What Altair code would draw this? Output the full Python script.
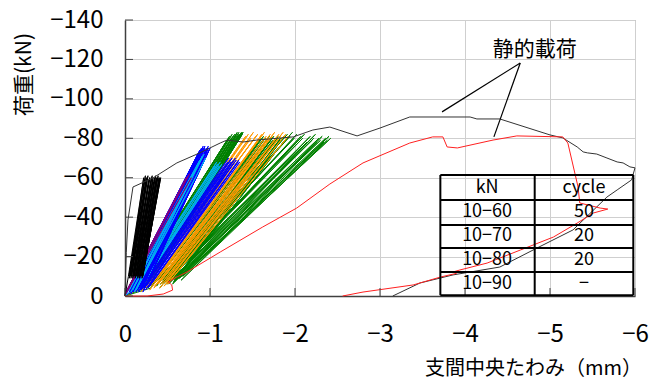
import altair as alt
import pandas as pd

FONT = "Noto Sans CJK JP"

# ---------------------------------------------------------------
# Static loading tests (magnitudes: deflection mm, load kN)
# ---------------------------------------------------------------
static_a_defl = [0.0, 0.005, 0.015, 0.035, 0.094, 0.33, 0.61, 0.88, 1.0, 1.12, 1.2, 1.39,
                 1.55, 1.98, 2.21, 2.41, 2.73, 3.0, 3.35, 4.06, 4.14, 4.41, 5.0, 5.15,
                 5.32, 5.39, 5.44, 5.55, 5.67, 5.79, 5.86, 5.94, 6.0, 5.96, 5.79, 5.67,
                 5.27, 4.85, 4.41, 3.86, 3.47, 3.15]
static_a_load = [0.0, 9.6, 22.0, 38.6, 55.3, 59.9, 67.5, 72.6, 75.1, 77.6, 79.1, 78.1,
                 79.1, 80.7, 84.2, 85.7, 81.2, 85.2, 90.8, 90.8, 89.8, 89.8, 81.7, 80.2,
                 75.6, 73.1, 72.6, 72.0, 70.0, 68.0, 67.5, 65.5, 65.0, 58.9, 53.8, 50.2,
                 33.5, 24.4, 14.7, 10.7, 6.6, 0.0]

static_b_defl = [0.0, 0.26, 0.45, 0.56, 0.55, 0.51, 0.61, 0.73, 1.12, 1.62, 2.02, 2.41,
                 2.80, 3.35, 3.62, 3.74, 3.79, 3.91, 4.33, 4.61, 5.15, 5.21, 5.33, 5.35,
                 5.59, 5.68, 5.51, 5.32, 5.04, 4.65, 4.26, 3.94, 3.86, 3.90, 3.71, 3.39,
                 2.80, 2.56]
static_b_load = [0.0, 0.0, 1.0, 3.0, 5.6, 7.1, 9.6, 12.2, 22.3, 35.0, 44.6, 56.8,
                 67.5, 77.6, 80.7, 80.7, 75.6, 75.1, 79.1, 81.2, 80.7, 77.6, 55.3, 47.2,
                 44.6, 44.1, 42.1, 37.0, 29.9, 23.3, 16.7, 13.2, 12.2, 11.5, 9.6, 5.6,
                 2.0, 0.0]

# ---------------------------------------------------------------
# Cyclic loading: lower / upper turning point of every cycle
# (vx, vy) = lower point, (px, py) = upper point
# ---------------------------------------------------------------
green_thin_vx = [0.34, 0.38, 0.36, 0.41, 0.39, 0.44, 0.42, 0.47, 0.45, 0.50, 0.48, 0.53,
                 0.51, 0.55, 0.54, 0.58, 0.56, 0.61, 0.59, 0.63, 0.62, 0.66, 0.64, 0.68]
green_thin_vy = [6, 8, 5, 9, 7, 8, 6, 9, 7, 10, 8, 9, 6, 10, 8, 7, 9, 10, 8, 9, 10, 8, 9, 10]
green_thin_px = [1.91, 1.94, 1.97, 1.99, 2.02, 2.04, 2.07, 2.09, 2.11, 2.14, 2.16, 2.18,
                 2.20, 2.22, 2.24, 2.26, 2.28, 2.30, 2.32, 2.34, 2.36, 2.38, 2.40, 2.42]
green_thin_py = [82, 81, 83, 80, 82, 79, 81, 80, 82, 78, 80, 81, 79, 80, 82, 78, 80,
                 79, 81, 78, 80, 79, 81, 80]

green_b_vx = [0.30, 0.33, 0.32, 0.35, 0.38, 0.37, 0.40, 0.42, 0.41, 0.44, 0.46, 0.45,
              0.48, 0.50, 0.49, 0.52, 0.54, 0.53, 0.56, 0.58, 0.57, 0.60]
green_b_vy = [4, 6, 5, 7, 6, 5, 7, 6, 4, 7, 8, 6, 7, 8, 6, 7, 8, 7, 6, 8, 7, 8]
green_b_px = [1.58, 1.60, 1.62, 1.63, 1.65, 1.67, 1.68, 1.70, 1.71, 1.73, 1.74, 1.75,
              1.77, 1.78, 1.79, 1.80, 1.82, 1.83, 1.84, 1.85, 1.87, 1.88]
green_b_py = [79, 80, 79, 81, 80, 79, 80, 81, 79, 80, 79, 81, 80, 79, 80, 81, 79, 80,
              79, 80, 81, 79]

orange_vx = [0.14, 0.17, 0.19, 0.21, 0.24, 0.23, 0.27, 0.29, 0.31, 0.30, 0.34, 0.36,
             0.35, 0.39, 0.41, 0.43, 0.42, 0.46, 0.48, 0.50]
orange_vy = [3, 5, 2, 6, 4, 5, 7, 3, 6, 5, 4, 7, 5, 6, 4, 8, 6, 5, 7, 6]
orange_px = [1.42, 1.45, 1.48, 1.51, 1.54, 1.56, 1.59, 1.61, 1.64, 1.66, 1.69, 1.71,
             1.73, 1.76, 1.78, 1.81, 1.83, 1.86, 1.89, 1.92]
orange_py = [81, 82, 80, 83, 81, 82, 80, 82, 83, 81, 80, 82, 81, 83, 80, 82, 81, 83,
             82, 81]

green_a_vx = [0.08, 0.10, 0.09, 0.11, 0.13, 0.12, 0.14, 0.16, 0.15, 0.17, 0.19, 0.18,
              0.20, 0.22, 0.21, 0.23, 0.25, 0.24, 0.26, 0.28]
green_a_vy = [2, 4, 3, 5, 4, 3, 5, 4, 6, 5, 4, 6, 5, 6, 4, 5, 6, 5, 6, 5]
green_a_px = [1.20, 1.22, 1.23, 1.25, 1.26, 1.27, 1.28, 1.29, 1.30, 1.31, 1.32, 1.33,
              1.34, 1.34, 1.35, 1.36, 1.37, 1.38, 1.38, 1.39]
green_a_py = [79, 80, 81, 80, 82, 81, 80, 82, 81, 82, 83, 81, 82, 83, 82, 81, 83, 82,
              83, 83]

blue_b_vx = [0.10, 0.12, 0.14, 0.15, 0.17, 0.19, 0.20, 0.22, 0.24, 0.25, 0.27, 0.29]
blue_b_vy = [3, 4, 3, 5, 4, 3, 5, 4, 3, 5, 4, 5]
blue_b_px = [1.21, 1.22, 1.24, 1.25, 1.26, 1.28, 1.29, 1.30, 1.31, 1.33, 1.34, 1.35]
blue_b_py = [68, 70, 69, 68, 70, 69, 68, 70, 69, 68, 69, 68]

cyan_b_vx = [0.08, 0.10, 0.12, 0.14, 0.16, 0.18]
cyan_b_vy = [3, 4, 3, 4, 3, 4]
cyan_b_px = [1.06, 1.08, 1.09, 1.11, 1.12, 1.14]
cyan_b_py = [66, 68, 67, 66, 68, 67]

blue_a_vx = [0.00, 0.02, 0.01, 0.03, 0.05, 0.04, 0.06, 0.08, 0.07, 0.09, 0.11, 0.10,
             0.12, 0.14, 0.13, 0.15, 0.17, 0.16, 0.18, 0.20, 0.19, 0.21, 0.23, 0.22]
blue_a_vy = [1, 2, 1, 3, 2, 4, 2, 3, 1, 2, 3, 2, 4, 3, 2, 3, 4, 2, 3, 4, 3, 2, 4, 3]
blue_a_px = [0.84, 0.85, 0.86, 0.86, 0.87, 0.88, 0.88, 0.89, 0.90, 0.90, 0.91, 0.92,
             0.92, 0.93, 0.94, 0.94, 0.95, 0.96, 0.96, 0.97, 0.98, 0.98, 0.99, 1.00]
blue_a_py = [70, 71, 72, 71, 73, 72, 74, 73, 75, 74, 73, 75, 76, 74, 75, 76, 74, 75,
             73, 74, 75, 76, 74, 75]

cyan_a_vx = [0.03, 0.05, 0.07, 0.09, 0.11, 0.13]
cyan_a_vy = [2, 3, 2, 3, 2, 3]
cyan_a_px = [0.86, 0.88, 0.90, 0.91, 0.93, 0.95]
cyan_a_py = [67, 69, 70, 71, 72, 70]

purple_vx = [0.00, 0.01, 0.01, 0.02]
purple_vy = [1, 2, 1, 2]
purple_px = [0.72, 0.74, 0.76, 0.78]
purple_py = [60, 61, 62, 60]

black_vx = [0.04, 0.05, 0.05, 0.06, 0.07, 0.07, 0.08, 0.09, 0.09, 0.10, 0.11, 0.11,
            0.12, 0.13, 0.13, 0.14, 0.15, 0.15, 0.16, 0.17, 0.17, 0.18, 0.19, 0.19,
            0.20, 0.21, 0.21]
black_vy = [10, 9, 11, 10, 9, 10, 11, 10, 9, 10, 11, 10, 9, 10, 11, 10, 9, 10, 11,
            10, 9, 10, 11, 10, 9, 10, 11]
black_px = [0.22, 0.23, 0.24, 0.25, 0.25, 0.26, 0.27, 0.28, 0.29, 0.29, 0.30, 0.31,
            0.32, 0.33, 0.33, 0.34, 0.35, 0.36, 0.37, 0.37, 0.38, 0.39, 0.40, 0.40,
            0.41, 0.41, 0.42]
black_py = [60, 59, 61, 60, 58, 60, 61, 59, 60, 60, 57, 60, 61, 59, 60, 58, 60, 61,
            60, 59, 60, 61, 60, 58, 60, 59, 60]

# drawing order: first entry lies underneath
cyclic_sets = [
    ("#008000", green_thin_vx, green_thin_vy, green_thin_px, green_thin_py),
    ("#008000", green_b_vx, green_b_vy, green_b_px, green_b_py),
    ("#FF9900", orange_vx, orange_vy, orange_px, orange_py),
    ("#008000", green_a_vx, green_a_vy, green_a_px, green_a_py),
    ("#0000FF", blue_b_vx, blue_b_vy, blue_b_px, blue_b_py),
    ("#00B0F0", cyan_b_vx, cyan_b_vy, cyan_b_px, cyan_b_py),
    ("#0000FF", blue_a_vx, blue_a_vy, blue_a_px, blue_a_py),
    ("#00B0F0", cyan_a_vx, cyan_a_vy, cyan_a_px, cyan_a_py),
    ("#800080", purple_vx, purple_vy, purple_px, purple_py),
    ("#000000", black_vx, black_vy, black_px, black_py),
]

# Table contents
table_kn = ["kN", "10−60", "10−70", "10−80", "10−90"]
table_cycle = ["cycle", "50", "20", "20", "−"]

x_ticks = [0, -1, -2, -3, -4, -5, -6]
y_ticks = [0, -20, -40, -60, -80, -100, -120, -140]

# ---------------------------------------------------------------
x_scale = alt.Scale(domain=[0, -6], nice=False, zero=False)
y_scale = alt.Scale(domain=[0, -140], nice=False, zero=False)

x_axis = alt.Axis(values=x_ticks, format="d", title="支間中央たわみ（mm）",
                  grid=True, ticks=False, tickSize=0, labelPadding=26, labelFlush=False,
                  titleX=408, titleY=72, titleAlign="center", titleBaseline="middle")
y_axis = alt.Axis(values=y_ticks, format="d", title="荷重(kN)",
                  grid=True, ticks=False, tickSize=0, labelPadding=22, labelFlush=False,
                  titleAngle=270, titleX=-101, titleY=54, titleAlign="center",
                  titleBaseline="middle", titleFontSize=21)

X = alt.X("x:Q", scale=x_scale, axis=x_axis)
Y = alt.Y("y:Q", scale=y_scale, axis=y_axis)


def polyline(defl, load):
    return pd.DataFrame({"x": [-v for v in defl], "y": [-v for v in load],
                         "i": list(range(len(defl)))})


def cycles(vx, vy, px, py):
    defl, load = [0.0], [0.0]
    for a, b, c, d in zip(vx, vy, px, py):
        defl += [a, c]
        load += [b, d]
    defl.append(vx[-1])
    load.append(vy[-1])
    return polyline(defl, load)


layers = []
for color, vx, vy, px, py in cyclic_sets:
    layers.append(
        alt.Chart(cycles(vx, vy, px, py)).mark_line(color=color, strokeWidth=1)
        .encode(x=X, y=Y, order="i:Q")
    )

layers.append(
    alt.Chart(polyline(static_a_defl, static_a_load)).mark_line(color="#333333", strokeWidth=1)
    .encode(x=X, y=Y, order="i:Q")
)
layers.append(
    alt.Chart(polyline(static_b_defl, static_b_load)).mark_line(color="#FF2020", strokeWidth=1)
    .encode(x=X, y=Y, order="i:Q")
)

# inward tick marks
layers.append(
    alt.Chart(pd.DataFrame({"x": x_ticks})).mark_rule(color="#404040", strokeWidth=1)
    .encode(x=X, y=alt.value(276), y2=alt.value(268))
)
layers.append(
    alt.Chart(pd.DataFrame({"y": y_ticks})).mark_rule(color="#404040", strokeWidth=1)
    .encode(y=Y, x=alt.value(0), x2=alt.value(8))
)

# label for the static curves with leader lines
note = pd.DataFrame({"x": [-4.82], "y": [-124.8], "t": ["静的載荷"]})
layers.append(
    alt.Chart(note).mark_text(font=FONT, fontSize=21, color="black", baseline="middle",
                              align="center")
    .encode(x=X, y=Y, text="t:N")
)
leaders = pd.DataFrame({"x": [-4.65, -4.65], "y": [-118.2, -118.2],
                        "x2": [-3.73, -4.34], "y2": [-93.4, -80.7]})
layers.append(
    alt.Chart(leaders).mark_rule(color="black", strokeWidth=1.2)
    .encode(x=X, y=Y, x2="x2:Q", y2="y2:Q")
)

# table grid
tx = [-3.71, -4.82, -5.98]
ty = [-61.4, -48.7, -36.0, -24.4, -12.2, -0.4]
grid_rows = pd.DataFrame({"x": [tx[0]] * len(ty), "x2": [tx[2]] * len(ty), "y": ty})
grid_cols = pd.DataFrame({"x": tx, "y": [ty[0]] * 3, "y2": [ty[-1]] * 3})
layers.append(
    alt.Chart(grid_rows).mark_rule(color="black", strokeWidth=2)
    .encode(x=X, x2="x2:Q", y=Y)
)
layers.append(
    alt.Chart(grid_cols).mark_rule(color="black", strokeWidth=2)
    .encode(x=X, y=Y, y2="y2:Q")
)
row_mid = [-55.0, -42.4, -30.2, -18.3, -6.3]
cells = pd.DataFrame({
    "x": [-4.26] * 5 + [-5.40] * 5,
    "y": row_mid + row_mid,
    "t": table_kn + table_cycle,
})
layers.append(
    alt.Chart(cells).mark_text(font=FONT, fontSize=18, color="black", baseline="middle",
                               align="center")
    .encode(x=X, y=Y, text="t:N")
)

chart = (
    alt.layer(*layers)
    .properties(width=510, height=276, autosize=alt.AutoSizeParams(type="none"),
                padding={"left": 125, "top": 20, "right": 22, "bottom": 85},
                background="white")
    .configure_view(stroke="#9a9a9a", strokeWidth=1)
    .configure_axis(gridColor="#cfcfcf", gridWidth=1, domainColor="#404040",
                    domainWidth=1.5, labelFont=FONT, labelFontSize=24,
                    labelColor="black", titleFont=FONT, titleFontSize=20,
                    titleFontWeight="normal", titleColor="black")
)

chart.save("out.html", embed_options={"renderer": "svg", "actions": False})
